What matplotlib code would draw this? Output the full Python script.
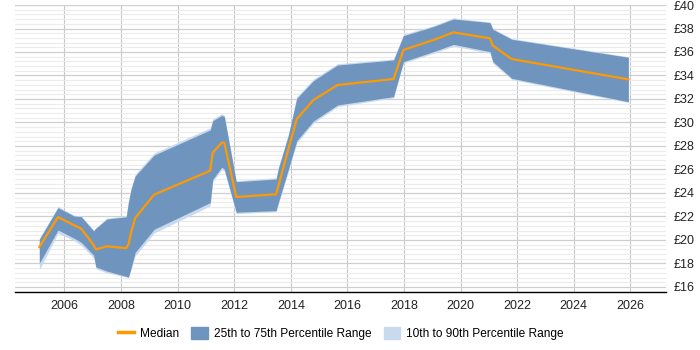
#!/usr/bin/env python3
"""
Hourly rate percentile bands over time (median, 25-75, 10-90)
"""

import matplotlib
matplotlib.use('Agg')
import matplotlib.pyplot as plt
import matplotlib.patches as mpatches
from matplotlib.lines import Line2D
from matplotlib.ticker import MultipleLocator, FuncFormatter

# Data (decimal years, GBP)
years = [2005.11, 2005.77, 2006.34, 2006.59, 2007.03, 2007.11, 2007.50, 2008.18,
         2008.26, 2008.35, 2008.50, 2009.17, 2011.15, 2011.24, 2011.56, 2011.65,
         2012.07, 2013.48, 2013.56, 2013.91, 2014.21, 2014.80, 2015.65, 2017.63,
         2017.98, 2019.04, 2019.75, 2021.04, 2021.14, 2021.81, 2025.93]

median = [19.40, 21.95, 21.25, 20.97, 19.57, 19.20, 19.46, 19.30,
          19.63, 20.60, 21.87, 23.86, 25.90, 27.43, 28.28, 28.28,
          23.66, 23.89, 24.60, 27.70, 30.30, 31.91, 33.19, 33.70,
          36.17, 37.02, 37.67, 37.16, 36.54, 35.40, 33.67]

p75 = [20.06, 22.75, 22.04, 21.98, 20.77, 21.00, 21.79, 21.96,
       23.20, 24.30, 25.45, 27.23, 29.36, 30.15, 30.60, 30.50,
       24.96, 25.19, 26.10, 28.88, 32.06, 33.56, 34.89, 35.32,
       37.39, 38.16, 38.81, 38.50, 37.93, 37.08, 35.55]

p25 = [18.01, 20.85, 20.15, 19.80, 18.70, 17.70, 17.35, 16.90,
       16.83, 17.60, 18.95, 20.91, 23.18, 25.16, 26.20, 26.00,
       22.36, 22.50, 23.20, 26.00, 28.45, 30.13, 31.49, 32.20,
       35.18, 36.03, 36.65, 36.03, 35.18, 33.76, 31.77]

p90 = [20.15, 22.85, 22.10, 22.05, 20.85, 21.05, 21.85, 22.05,
       23.30, 24.40, 25.60, 27.40, 29.55, 30.30, 30.75, 30.60,
       25.05, 25.30, 26.20, 29.00, 32.20, 33.70, 35.00, 35.40,
       37.50, 38.25, 38.90, 38.55, 38.00, 37.15, 35.60]

p10 = [17.45, 20.57, 19.95, 19.55, 18.45, 17.55, 17.20, 16.85,
       16.78, 17.45, 18.65, 20.60, 22.90, 24.95, 26.00, 25.85,
       22.25, 22.40, 23.05, 25.80, 28.25, 29.95, 31.35, 32.10,
       35.05, 35.90, 36.50, 35.90, 35.05, 33.65, 31.70]

COL_MEDIAN = '#ff9900'
COL_IQR = '#6f95be'
COL_DECILE = '#c7daee'

plt.rcParams['font.family'] = ['Liberation Sans Narrow', 'Liberation Sans', 'DejaVu Sans']

fig = plt.figure(figsize=(7, 3.5), dpi=100)
ax = fig.add_axes([0.0214, 0.1657, 0.9296, 0.82])

# Bands and median
ax.fill_between(years, p10, p90, color=COL_DECILE, linewidth=0, zorder=2)
ax.fill_between(years, p25, p75, color=COL_IQR, linewidth=0, zorder=3)
ax.plot(years, median, color=COL_MEDIAN, linewidth=1.6, zorder=4)

ax.set_xlim(2004.25, 2027.25)
ax.set_ylim(15.57, 40.0)

# Grid
ax.xaxis.set_major_locator(MultipleLocator(2))
ax.yaxis.set_major_locator(MultipleLocator(2))
ax.yaxis.set_minor_locator(MultipleLocator(0.4))
ax.grid(which='major', axis='x', color='#c8c8c8', linewidth=0.8, zorder=0)
ax.grid(which='major', axis='y', color='#cfcfcf', linewidth=0.9, zorder=0)
ax.grid(which='minor', axis='y', color='#ececec', linewidth=0.8, zorder=0)
ax.set_axisbelow(True)

# Axes styling
for side in ['top', 'left', 'right']:
    ax.spines[side].set_visible(False)
ax.spines['bottom'].set_color('black')
ax.spines['bottom'].set_linewidth(1.0)

ax.yaxis.tick_right()
ax.yaxis.set_major_formatter(FuncFormatter(lambda v, p: f'£{v:.0f}'))
ax.tick_params(axis='both', which='both', length=0, labelsize=9, colors='#222222')
ax.tick_params(axis='x', pad=6)
ax.tick_params(axis='y', pad=6)

# Legend below the plot
legend_elements = [
    Line2D([0], [0], color=COL_MEDIAN, linewidth=2.5, label='Median'),
    mpatches.Patch(color=COL_IQR, label='25th to 75th Percentile Range'),
    mpatches.Patch(color=COL_DECILE, label='10th to 90th Percentile Range'),
]
fig.legend(handles=legend_elements, loc='center', bbox_to_anchor=(0.487, 0.047),
           ncol=3, frameon=False, fontsize=8.6, handlelength=1.4, handleheight=1.2,
           columnspacing=1.0, handletextpad=0.5)

plt.savefig('out.png', dpi=100, facecolor='white')
